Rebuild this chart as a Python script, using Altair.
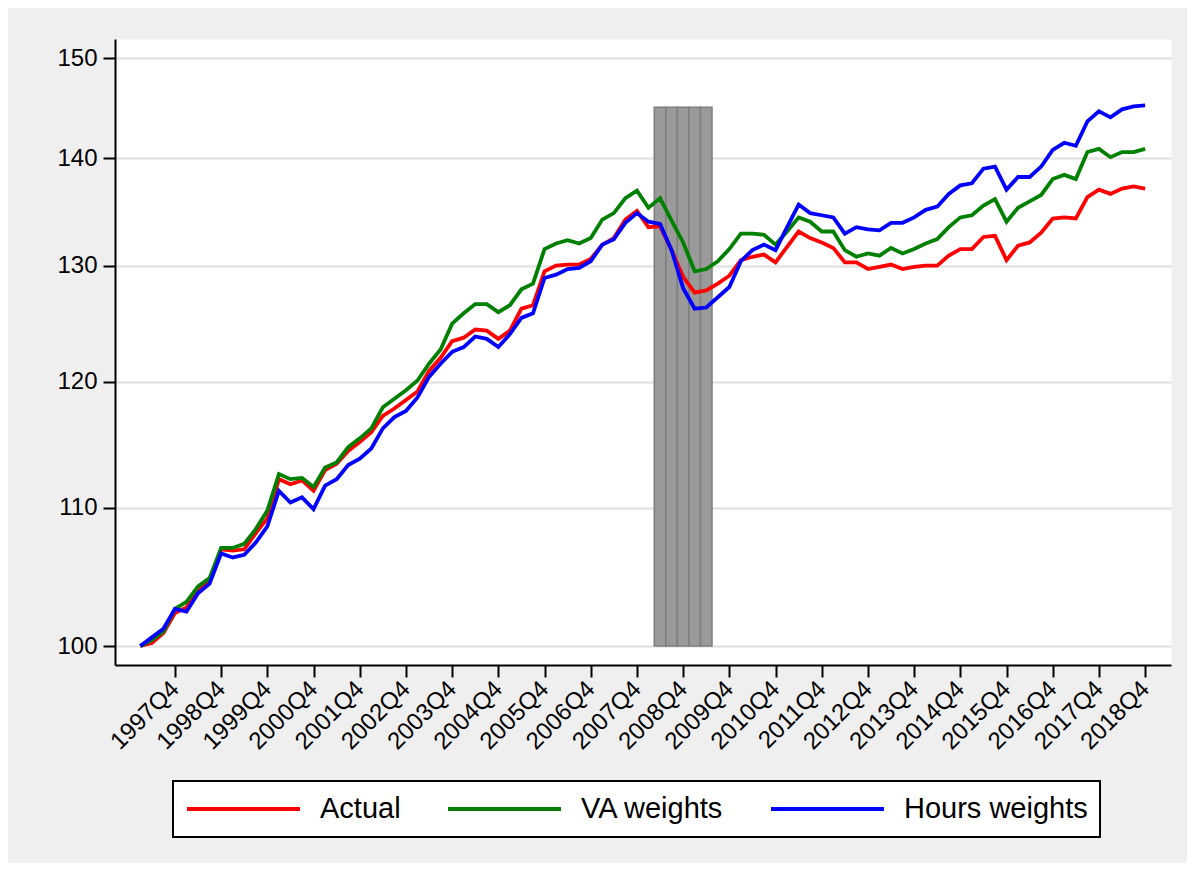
import json
import altair as alt
import pandas as pd

# quarter index 0 = 1997Q1 ... 87 = 2018Q4
tick_labels = ["1997Q4", "1998Q4", "1999Q4", "2000Q4", "2001Q4", "2002Q4",
               "2003Q4", "2004Q4", "2005Q4", "2006Q4", "2007Q4", "2008Q4",
               "2009Q4", "2010Q4", "2011Q4", "2012Q4", "2013Q4", "2014Q4",
               "2015Q4", "2016Q4", "2017Q4", "2018Q4"]
tick_index = [3 + 4 * k for k in range(len(tick_labels))]

actual = [100.0, 100.2, 100.9, 102.3, 102.7, 103.9, 104.6, 106.9, 106.8, 106.9,
          108.1, 109.2, 112.2, 111.8, 112.1, 111.3, 112.9, 113.4, 114.4, 115.1,
          115.9, 117.2, 117.8, 118.5, 119.2, 120.9, 122.0, 123.4, 123.7, 124.4,
          124.3, 123.6, 124.3, 126.2, 126.5, 129.5, 130.0, 130.1, 130.1, 130.6,
          131.9, 132.5, 134.2, 135.0, 133.5, 133.6, 131.4, 129.0, 127.6, 127.8,
          128.4, 129.1, 130.5, 130.8, 131.0, 130.3, 131.7, 133.1, 132.5, 132.1,
          131.6, 130.3, 130.3, 129.7, 129.9, 130.1, 129.7, 129.9, 130.0, 130.0,
          130.9, 131.5, 131.5, 132.6, 132.7, 130.5, 131.8, 132.1, 133.0, 134.3,
          134.4, 134.3, 136.3, 137.0, 136.6, 137.1, 137.3, 137.1]

va_weights = [100.0, 100.4, 101.0, 102.6, 103.1, 104.2, 104.8, 107.0, 107.0, 107.3,
              108.4, 109.8, 112.6, 112.2, 112.3, 111.6, 113.1, 113.5, 114.7, 115.4,
              116.2, 117.9, 118.6, 119.3, 120.1, 121.5, 122.7, 124.9, 125.8, 126.6,
              126.6, 125.9, 126.5, 127.9, 128.4, 131.5, 132.0, 132.3, 132.0, 132.5,
              134.2, 134.8, 136.2, 136.9, 135.3, 136.2, 134.1, 132.1, 129.5, 129.7,
              130.4, 131.5, 132.9, 132.9, 132.8, 131.9, 133.1, 134.4, 134.0, 133.1,
              133.1, 131.4, 130.8, 131.1, 130.9, 131.6, 131.1, 131.5, 132.0, 132.4,
              133.5, 134.4, 134.6, 135.5, 136.1, 134.0, 135.3, 135.9, 136.5, 138.0,
              138.4, 138.0, 140.6, 140.9, 140.1, 140.6, 140.6, 140.9]

hours_weights = [100.0, 100.6, 101.2, 102.6, 102.4, 103.7, 104.4, 106.6, 106.3, 106.5,
                 107.4, 108.6, 111.3, 110.4, 110.8, 109.9, 111.7, 112.2, 113.3, 113.8,
                 114.6, 116.2, 117.1, 117.6, 118.7, 120.4, 121.5, 122.5, 122.9, 123.8,
                 123.6, 122.9, 124.0, 125.4, 125.8, 128.9, 129.2, 129.7, 129.8, 130.4,
                 131.9, 132.4, 133.9, 134.8, 134.0, 133.8, 131.4, 128.0, 126.2, 126.3,
                 127.2, 128.1, 130.4, 131.4, 131.9, 131.4, 133.5, 135.6, 134.8, 134.6,
                 134.4, 132.9, 133.5, 133.3, 133.2, 133.9, 133.9, 134.4, 135.1, 135.4,
                 136.6, 137.4, 137.6, 139.0, 139.2, 137.0, 138.2, 138.2, 139.2, 140.8,
                 141.5, 141.2, 143.6, 144.6, 144.0, 144.8, 145.1, 145.2]

series_names = ["Actual", "VA weights", "Hours weights"]
series_colors = ["#ff0000", "#008000", "#0000ff"]

# recession quarters: 2008Q2 .. 2009Q2
recession_index = [45, 46, 47, 48, 49]
recession_bottom = 100
recession_top = 145

rows = []
for name, vals in zip(series_names, [actual, va_weights, hours_weights]):
    for i, v in enumerate(vals):
        rows.append({"t": i, "value": v, "series": name})
lines_df = pd.DataFrame(rows)

rec_df = pd.DataFrame({"q": recession_index,
                       "lo": [recession_bottom] * len(recession_index),
                       "hi": [recession_top] * len(recession_index)})

FONT = "Liberation Sans"

x_scale = alt.Scale(domain=[-2.19, 89.24], nice=False, zero=False)
y_scale = alt.Scale(type="log", domain=[98.70, 152.0], nice=False, zero=False)

x_axis = alt.Axis(
    values=tick_index,
    labelExpr=json.dumps(tick_labels) + "[(datum.value - 3) / 4]",
    title=None, grid=False,
    tickSize=12, tickWidth=2, tickColor="black",
    domainColor="black", domainWidth=2,
    labelAngle=-45, labelAlign="right", labelBaseline="middle",
    labelPadding=8, labelFontSize=24, labelFont=FONT, labelColor="black",
    labelOverlap=False, labelFlush=False,
)
y_axis = alt.Axis(
    values=[100, 110, 120, 130, 140, 150],
    format="d",
    title=None, grid=True, gridColor="#e4e4e4", gridWidth=2.5,
    tickSize=12, tickWidth=2, tickColor="black",
    domainColor="black", domainWidth=2,
    labelPadding=6, labelFontSize=24, labelFont=FONT, labelColor="black",
    labelOverlap=False, labelFlush=False,
)

bars = alt.Chart(rec_df).transform_calculate(
    x0="datum.q - 0.5", x1="datum.q + 0.5"
).mark_rect(fill="#9a9a9a", stroke="#7e7e7e", strokeWidth=1.5).encode(
    x=alt.X("x0:Q", scale=x_scale, axis=x_axis),
    x2="x1:Q",
    y=alt.Y("lo:Q", scale=y_scale, axis=y_axis),
    y2="hi:Q",
)

lines = alt.Chart(lines_df).mark_line(strokeWidth=3.8).encode(
    x=alt.X("t:Q", scale=x_scale, axis=x_axis),
    y=alt.Y("value:Q", scale=y_scale, axis=y_axis),
    color=alt.Color(
        "series:N",
        scale=alt.Scale(domain=series_names, range=series_colors),
        sort=series_names,
        legend=alt.Legend(
            title=None, orient="none", legendX=58, legendY=742,
            direction="horizontal", columns=3,
            labelFontSize=29, labelFont=FONT, labelColor="black",
            labelLimit=500,
            symbolType="stroke", symbolSize=12769, symbolStrokeWidth=4,
            labelOffset=18, columnPadding=45, padding=12,
            strokeColor="black", fillColor="white", clipHeight=32,
            symbolOffset=0,
        ),
    ),
    order=alt.Order("t:Q"),
)

chart = alt.layer(bars, lines).properties(
    width=1056, height=626,
    background="#efefef",
    padding={"left": 107, "top": 31, "right": 16, "bottom": 198},
    autosize=alt.AutoSizeParams(type="none"),
).configure_view(
    fill="white", strokeOpacity=0
).configure_legend(
    strokeWidth=2
)

chart.save("out.html", embed_options={"renderer": "svg", "actions": False})
